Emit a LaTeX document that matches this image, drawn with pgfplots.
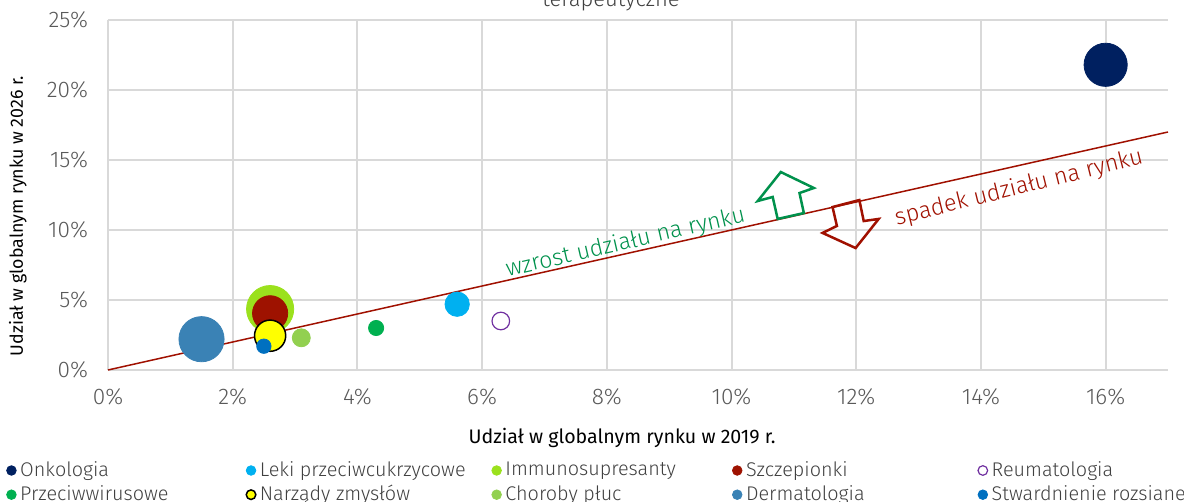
\documentclass[border=0pt]{standalone}
\usepackage{pgfplots}
\pgfplotsset{compat=1.18}
\usepackage{fontspec}
\setmainfont{Fira Sans Light}
\newfontfamily\labelfont{Fira Sans}

\definecolor{gridgray}{HTML}{D9D9D9}
\definecolor{tickgray}{HTML}{595959}
\definecolor{txtgray}{HTML}{404040}
\definecolor{onko}{HTML}{002060}
\definecolor{leki}{HTML}{00B0F0}
\definecolor{immuno}{HTML}{9BE11D}
\definecolor{szczep}{HTML}{9E1200}
\definecolor{reuma}{HTML}{7030A0}
\definecolor{wirus}{HTML}{00B050}
\definecolor{zmysl}{HTML}{FFFF00}
\definecolor{pluca}{HTML}{92D050}
\definecolor{derma}{HTML}{3A82B5}
\definecolor{stward}{HTML}{0070C0}
\definecolor{upgreen}{HTML}{00914C}
\definecolor{downred}{HTML}{A01000}

\newcommand{\lentry}[2]{\addlegendentry{\makebox[#1][l]{#2}}}

\begin{document}
\begin{tikzpicture}
\useasboundingbox (-54pt,-66pt) rectangle (538pt,185pt);
\begin{axis}[
    at={(0,0)}, anchor=south west,
    scale only axis,
    width=530pt, height=175pt,
    xmin=0, xmax=17, ymin=0, ymax=25,
    xtick={0,2,...,16}, ytick={0,5,...,25},
    xticklabel={\pgfmathprintnumber{\tick}\%},
    yticklabel={\pgfmathprintnumber{\tick}\%},
    /pgf/number format/assume math mode=true,
    ticklabel style={font=\fontsize{11.3}{13}\selectfont, text=tickgray},
    xticklabel style={yshift=-6pt},
    yticklabel style={xshift=-6.5pt},
    major tick length=0pt,
    grid=major,
    major grid style={draw=gridgray, line width=1pt},
    axis line style={draw=none},
    clip=false,
    xlabel={Udział w globalnym rynku w 2019 r.},
    ylabel={Udział w globalnym rynku w 2026 r.},
    xlabel style={font=\labelfont\fontsize{9.8}{12}\selectfont, text=black,
        at={(axis description cs:0.485,-0.194)}, anchor=center},
    ylabel style={font=\labelfont\fontsize{8.9}{11}\selectfont, text=black,
        at={(axis description cs:-0.085,0.44)}, anchor=center},
    legend columns=5,
    legend style={at={(axis description cs:-0.096,-0.249)}, anchor=north west,
        draw=none, fill=none, inner sep=0pt,
        font=\fontsize{9.9}{12}\selectfont, text=txtgray,
        /tikz/every even column/.append style={column sep=0pt},
        /tikz/row sep=-1pt},
    legend image code/.code={\draw[#1, mark size=2.4pt] plot coordinates {(0pt,0pt)};},
    every axis plot/.append style={only marks, mark=*},
]
\addplot[onko, mark size=10.8pt] coordinates {(16,21.8)};
\lentry{111pt}{Onkologia}
\addplot[leki, mark size=6.1pt] coordinates {(5.6,4.7)};
\lentry{114pt}{Leki przeciwcukrzycowe}
\addplot[immuno, mark size=11.8pt] coordinates {(2.6,4.35)};
\lentry{111.5pt}{Immunosupresanty}
\addplot[szczep, mark size=8.8pt] coordinates {(2.6,4.05)};
\lentry{114pt}{Szczepionki}
\addplot[reuma, mark size=4.4pt, mark options={line width=0.6pt, fill=white}] coordinates {(6.3,3.5)};
\lentry{100pt}{Reumatologia}
\addplot[wirus, mark size=3.8pt] coordinates {(4.3,3.0)};
\lentry{111pt}{Przeciwwirusowe}
\addplot[black, mark size=7.8pt, mark options={line width=0.75pt, fill=zmysl}] coordinates {(2.6,2.45)};
\lentry{114pt}{Narządy zmysłów}
\addplot[pluca, mark size=4.5pt] coordinates {(3.1,2.3)};
\lentry{111.5pt}{Choroby płuc}
\addplot[derma, mark size=11.3pt] coordinates {(1.5,2.2)};
\lentry{114pt}{Dermatologia}
\addplot[stward, mark size=3.6pt] coordinates {(2.5,1.7)};
\lentry{100pt}{Stwardnienie rozsiane}

\addplot[forget plot, no marks, sharp plot, draw=downred, line width=0.75pt] coordinates {(0,0) (17,17)};

\draw[upgreen, line width=1.25pt, line join=miter]
  (axis cs:10.79,14.14) -- (axis cs:11.32,13.0) -- (axis cs:11.09,12.64)
  -- (axis cs:11.16,11.21) -- (axis cs:10.74,10.79) -- (axis cs:10.66,12.36)
  -- (axis cs:10.42,12.07) -- cycle;
\draw[downred, line width=1.25pt, line join=miter]
  (axis cs:11.62,11.64) -- (axis cs:12.05,12.14) -- (axis cs:12.12,10.64)
  -- (axis cs:12.36,10.79) -- (axis cs:11.99,8.71) -- (axis cs:11.46,9.79)
  -- (axis cs:11.69,10.29) -- cycle;
\node[rotate=13, text=upgreen, font=\fontsize{11.6}{13}\selectfont]
  at (axis cs:8.30,9.07) {wzrost udziału na rynku};
\node[rotate=14, text=downred, font=\fontsize{11.7}{13}\selectfont]
  at (axis cs:14.61,13.0) {spadek udziału na rynku};
\end{axis}
\node[anchor=base, text=txtgray, font=\fontsize{11}{13}\selectfont] at (251.5pt,181.5pt) {terapeutyczne};
\end{tikzpicture}
\end{document}
